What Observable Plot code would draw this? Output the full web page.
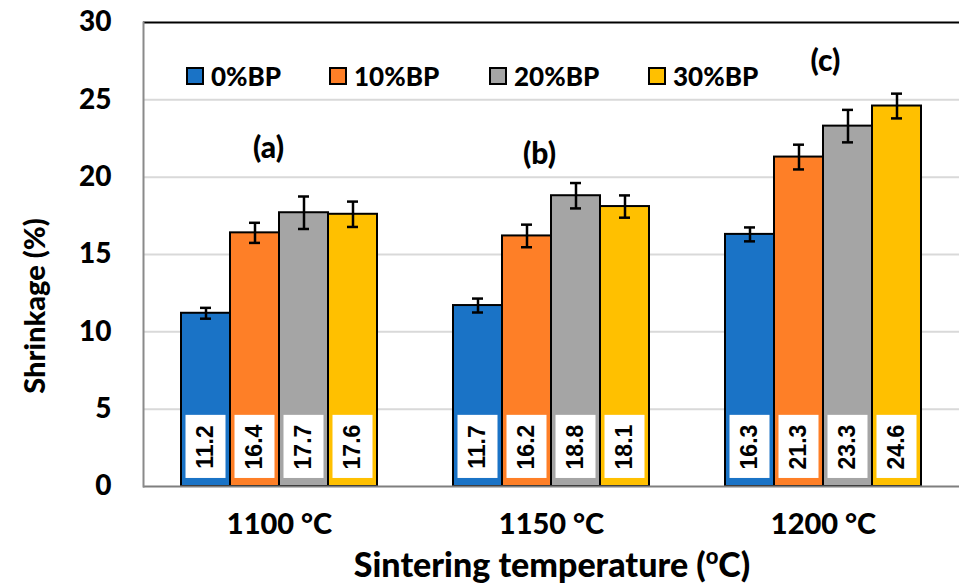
<!DOCTYPE html>
<html>
<head>
<meta charset="utf-8">
<script src="https://cdn.jsdelivr.net/npm/d3@7"></script>
<script src="https://cdn.jsdelivr.net/npm/@observablehq/plot@0.6"></script>
<style>
  html, body { margin: 0; padding: 0; background: #fff; }
  #wrap { position: relative; width: 960px; height: 587px; overflow: hidden; }
  #legend { position: absolute; top: 63px; left: 0; height: 26px; font-family: Lato, sans-serif; font-weight: 900; font-size: 26px; color: #000; }
  .item { position: absolute; top: 0; display: flex; align-items: center; white-space: nowrap; line-height: 26px; }
  .sw { width: 18px; height: 18px; box-sizing: border-box; border: 2px solid #000; margin-right: 7px; }
</style>
</head>
<body>
<div id="wrap"><div id="legend"></div></div>
<script>
// ---- data ----
const temperatures = ["1100 °C", "1150 °C", "1200 °C"];
const seriesNames = ["0%BP", "10%BP", "20%BP", "30%BP"];
const seriesColors = ["#1a73c6", "#fe7f27", "#a5a5a5", "#ffc000"];
const bp0  = [11.2, 11.7, 16.3];
const bp10 = [16.4, 16.2, 21.3];
const bp20 = [17.7, 18.8, 23.3];
const bp30 = [17.6, 18.1, 24.6];
const err0  = [0.35, 0.45, 0.45];
const err10 = [0.65, 0.73, 0.8];
const err20 = [1.05, 0.82, 1.05];
const err30 = [0.82, 0.72, 0.8];
const panelLabels = ["(a)", "(b)", "(c)"];
const yTicks = [0, 5, 10, 15, 20, 25, 30];

// ---- build table ----
const values = [bp0, bp10, bp20, bp30];
const errors = [err0, err10, err20, err30];
const data = [];
temperatures.forEach((t, i) => {
  seriesNames.forEach((s, j) => {
    data.push({temp: t, series: s, v: values[j][i], e: errors[j][i]});
  });
});
const annotations = [
  {temp: temperatures[0], text: panelLabels[0], y: 21.85, dx: -11},
  {temp: temperatures[1], text: panelLabels[1], y: 21.5, dx: -12},
  {temp: temperatures[2], text: panelLabels[2], y: 27.5, dx: 2}
];

const font = "Lato, 'Open Sans', sans-serif";
const W = 900;

const chart = Plot.plot({
  width: 960,
  height: 587,
  marginLeft: 142,
  marginRight: 0,
  marginTop: 22,
  marginBottom: 101,
  style: {fontFamily: font, fontWeight: W, fontSize: "28px", color: "#000", background: "#fff"},
  fx: {domain: temperatures, padding: 0, axis: null},
  x: {domain: seriesNames, paddingInner: 0, paddingOuter: 0.74, axis: null},
  y: {domain: [0, 30], axis: null},
  color: {domain: seriesNames, range: seriesColors},
  marks: [
    Plot.gridY({ticks: [5, 10, 15, 20, 25], stroke: "#d9d9d9", strokeOpacity: 1, strokeWidth: 2}),
    Plot.ruleY([30], {stroke: "#000", strokeWidth: 2}),
    Plot.axisY({ticks: yTicks, tickSize: 0, tickPadding: 32, label: null, fontSize: 28, fontWeight: W}),
    Plot.axisFx({anchor: "bottom", tickSize: 0, tickPadding: 27, label: null, fontSize: 29, fontWeight: W}),
    Plot.barY(data, {fx: "temp", x: "series", y: "v", fill: "series", stroke: "#000", strokeWidth: 2}),
    Plot.barY(data, {fx: "temp", x: "series", y1: 0.52, y2: 4.6, fill: "#fff", insetLeft: 4.5, insetRight: 4.5}),
    Plot.text(data, {fx: "temp", x: "series", y: 2.55, text: d => d.v.toFixed(1), rotate: -90,
      fontFamily: "'Liberation Sans', Arial, sans-serif", fontWeight: "bold", fontSize: 23, fill: "#000"}),
    Plot.ruleX(data, {fx: "temp", x: "series", y1: d => d.v - d.e, y2: d => d.v + d.e, stroke: "#000", strokeWidth: 2.5}),
    Plot.tickY(data, {fx: "temp", x: "series", y: d => d.v - d.e, stroke: "#000", strokeWidth: 2.5, insetLeft: 19, insetRight: 19}),
    Plot.tickY(data, {fx: "temp", x: "series", y: d => d.v + d.e, stroke: "#000", strokeWidth: 2.5, insetLeft: 19, insetRight: 19}),
    Plot.ruleY([0], {stroke: "#7f7f7f", strokeWidth: 2}),
    Plot.frame({anchor: "left", facet: "super", stroke: "#8a8a8a", strokeWidth: 2}),
    Plot.text(annotations, {fx: "temp", y: "y", text: "text", fontSize: 30, fontWeight: W, fill: "#000"})
  ]
});

document.getElementById("wrap").prepend(chart);
const svg = d3.select(chart);

// nudge panel labels horizontally
svg.selectAll("text").filter(function() {
  return panelLabels.includes(this.textContent);
}).each(function() {
  const a = annotations.find(d => d.text === this.textContent);
  const t = this.getAttribute("transform") || "";
  this.setAttribute("transform", `translate(${a.dx},0) ` + t);
});

// y-axis title
svg.append("text")
  .attr("transform", "translate(45,306) rotate(-90)")
  .attr("text-anchor", "middle")
  .attr("font-family", font).attr("font-weight", W).attr("font-size", 29).attr("fill", "#000")
  .text("Shrinkage (%)");

// x-axis title with superscript
const xt = svg.append("text")
  .attr("x", 552).attr("y", 577)
  .attr("text-anchor", "middle")
  .attr("font-family", font).attr("font-weight", W).attr("font-size", 34).attr("fill", "#000");
xt.append("tspan").text("Sintering temperature (");
xt.append("tspan").attr("font-size", 22).attr("dy", -13).text("o");
xt.append("tspan").attr("dy", 13).text("C)");

// legend
const legendLeft = [186, 329, 489, 648];
const legend = d3.select("#legend");
seriesNames.forEach((s, i) => {
  const it = legend.append("div").attr("class", "item").style("left", legendLeft[i] + "px");
  it.append("div").attr("class", "sw").style("background", seriesColors[i]);
  it.append("span").text(s);
});
</script>
</body>
</html>
